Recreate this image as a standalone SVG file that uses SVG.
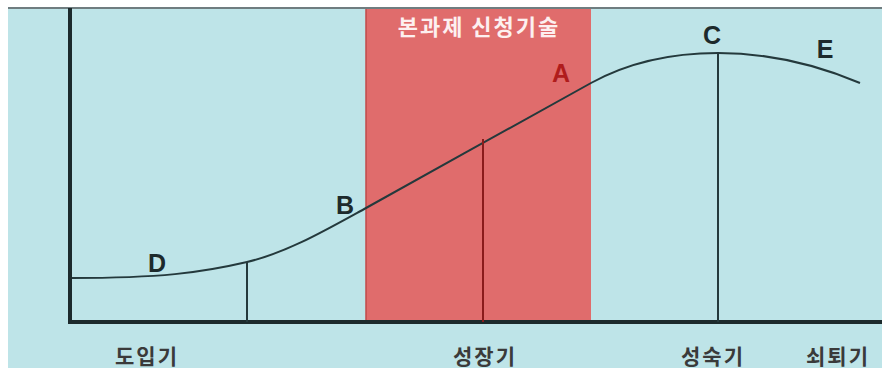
<svg xmlns="http://www.w3.org/2000/svg" width="882" height="377" viewBox="0 0 882 377">
<style>
.lbl{font-family:"Liberation Sans","Noto Sans CJK KR",sans-serif;font-weight:bold;font-size:25px;fill:#1d2a2c;text-anchor:middle}
.kr{font-family:"Noto Sans CJK KR",sans-serif;font-weight:bold;font-size:21px;letter-spacing:2px;fill:#3a3a3a;text-anchor:middle}
.vl{stroke:#24393c;stroke-width:2;fill:none}
</style>
<rect x="0" y="0" width="882" height="377" fill="#ffffff"/>
<rect x="8" y="8" width="874" height="360" fill="#bee4e8"/>
<line x1="8" y1="8" x2="882" y2="8" stroke="#6f7d80" stroke-width="2"/>
<g id="highlight">
<rect x="366" y="9" width="225" height="313" fill="#e06c6c"/>
<line x1="366" y1="9" x2="366" y2="322" stroke="#c04a4a" stroke-width="1.5"/>
<text x="479" y="35" font-family="Noto Sans CJK KR,sans-serif" font-size="22" font-weight="bold" letter-spacing="2" fill="#fdf0f0" text-anchor="middle">본과제 신청기술</text>
</g>
<g id="axes">
<line x1="70" y1="8" x2="70" y2="322" stroke="#1c2a2c" stroke-width="4"/>
<line x1="68" y1="322" x2="882" y2="322" stroke="#1c2a2c" stroke-width="4"/>
</g>
<g id="connectors">
<path class="vl" d="M72,278 C160,278 200,273 247,262 C287,252.6 326,230 366,208 C441,166.7 516,124 591,83 C633,60 676,53 718,53 C765,53 815,64 860,83"/>
<line class="vl" x1="247" y1="262" x2="247" y2="322"/>
<line x1="483" y1="139" x2="483" y2="322" stroke="#8a1c1c" stroke-width="2"/>
<line class="vl" x1="718" y1="53" x2="718" y2="322"/>
</g>
<g id="D"><text class="lbl" x="157" y="272">D</text></g>
<g id="B"><text class="lbl" x="345" y="214">B</text></g>
<g id="A"><text class="lbl" x="561" y="82" style="fill:#b01c1c">A</text></g>
<g id="C"><text class="lbl" x="712" y="44">C</text></g>
<g id="E"><text class="lbl" x="825" y="58">E</text></g>
<g id="phases">
<text class="kr" x="147" y="364">도입기</text>
<text class="kr" x="485" y="364">성장기</text>
<text class="kr" x="713" y="364">성숙기</text>
<text class="kr" x="838" y="364">쇠퇴기</text>
</g>
</svg>
